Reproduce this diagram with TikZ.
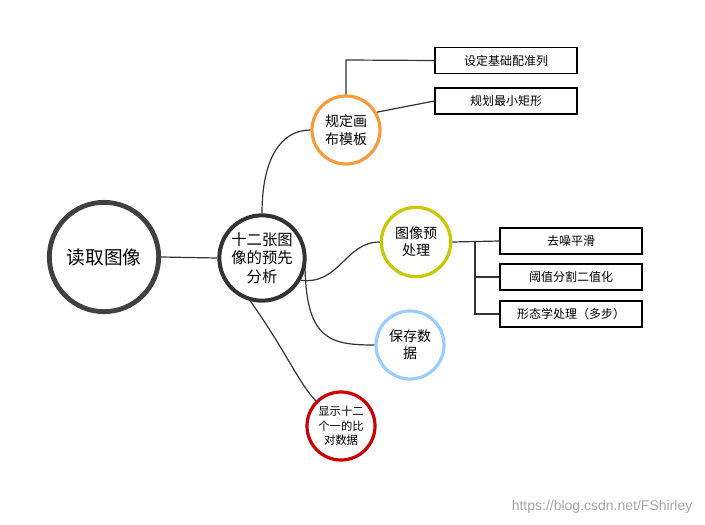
\documentclass[tikz,border=0pt]{standalone}
\usepackage{fontspec}
\setmainfont{Noto Sans CJK SC}
\setsansfont{Liberation Sans}
\begin{document}
\begin{tikzpicture}[x=0.75pt,y=-0.75pt,
  circ/.style={circle,draw,line width=2.4pt,inner sep=0pt,align=center},
  box/.style={draw,line width=0.9pt,minimum width=106.5pt,minimum height=19.5pt,inner sep=0pt,font=\fontsize{9}{11}\selectfont},
  conn/.style={draw=black!80,line width=0.9pt}]
\useasboundingbox (0,0) rectangle (705,524);
\node[circ,draw=black!75,line width=3.6pt,minimum size=82pt,font=\fontsize{14}{17}\selectfont] (read) at (104,257) {读取图像};
\node[circ,draw=black!80,line width=3pt,minimum size=64pt,font=\fontsize{11.5}{14}\selectfont] (ana) at (262,258) {十二张图\\像的预先\\分析};
\node[circ,draw={rgb,255:red,248;green,154;blue,59},minimum size=51pt,font=\fontsize{10.5}{13}\selectfont] (tpl) at (346,130) {规定画\\布模板};
\node[circ,draw={rgb,255:red,200;green,200;blue,0},minimum size=52pt,font=\fontsize{10.5}{13}\selectfont] (pre) at (416,242) {图像预\\处理};
\node[circ,draw={rgb,255:red,153;green,204;blue,255},minimum size=51pt,font=\fontsize{10.5}{13}\selectfont] (save) at (410,345) {保存数\\据};
\node[circ,draw={rgb,255:red,204;green,0;blue,0},minimum size=51pt,font=\fontsize{8.5}{11}\selectfont] (show) at (341,426) {显示十二\\个一的比\\对数据};
\node[box] (b1) at (506,60.5) {设定基础配准列};
\node[box] (b2) at (506,101) {规划最小矩形};
\node[box] (b3) at (571,241) {去噪平滑};
\node[box] (b4) at (571,277) {阈值分割二值化};
\node[box] (b5) at (571,314) {形态学处理（多步）};
\draw[conn] (read.east) -- (ana.west);
\draw[conn] (ana.north) .. controls (262,160) and (280,130) .. (tpl.west);
\draw[conn] (ana.-30) .. controls (340,285) and (345,242) .. (pre.west);
\draw[conn] (305,262) .. controls (305,340) and (330,345) .. (save.west);
\draw[conn] (ana.-105) .. controls (285,350) and (300,385) .. (show.north west);
\draw[conn] (tpl.north) -- (346,60) -- (b1.west);
\draw[conn] (tpl.30) -- (b2.west);
\draw[conn] (pre.east) -- (b3.west);
\draw[conn] (475,241) |- (b5.west);
\draw[conn] (475,277) -- (b4.west);
\node[text=black!35,font=\sffamily\fontsize{10.5}{12}\selectfont,anchor=east] (wm) at (697,507) {https://blog.csdn.net/FShirley};
\end{tikzpicture}
\end{document}
